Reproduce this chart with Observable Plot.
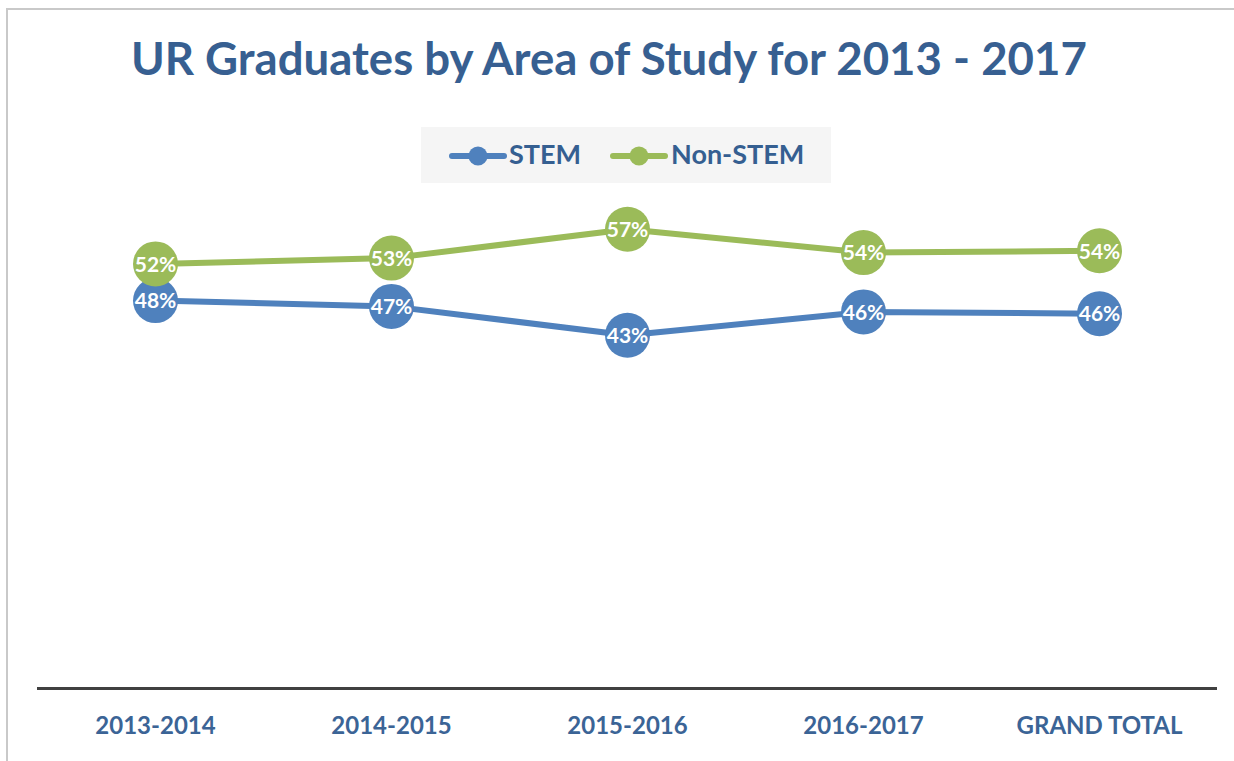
<!DOCTYPE html>
<html>
<head>
<meta charset="utf-8">
<script src="https://cdn.jsdelivr.net/npm/d3@7"></script>
<script src="https://cdn.jsdelivr.net/npm/@observablehq/plot@0.6"></script>
<style>
  html, body { margin: 0; padding: 0; background: #fff; overflow: hidden; }
  #wrap { position: relative; width: 1234px; height: 761px; overflow: hidden; font-family: Lato, "Open Sans", sans-serif; }
  #frame { position: absolute; left: 6px; top: 8px; width: 1300px; height: 800px; border-left: 2px solid #c9c9c9; border-top: 2px solid #c9c9c9; }
  #title { position: absolute; left: 0; top: 36px; width: 1218px; text-align: center; white-space: nowrap; }
  #title span { display: inline-block; font-size: 45px; line-height: 44px; font-weight: 700; color: #375F91; transform-origin: center; }
  #legend { position: absolute; left: 421px; top: 127px; width: 410px; height: 56px; background: #f5f5f5; }
  .lg-text { position: absolute; top: 13px; font-size: 27px; line-height: 27px; font-weight: 700; color: #355F91; white-space: nowrap; }
  .lg-sw { position: absolute; top: 18px; }
  #chart { position: absolute; left: 0; top: 190px; }
</style>
</head>
<body>
<div id="wrap">
  <div id="frame"></div>
  <div id="title"><span id="titleText">UR Graduates by Area of Study for 2013 - 2017</span></div>
  <div id="legend"></div>
  <div id="chart"></div>
</div>
<script>
// ---- Data ----
const categories = ["2013-2014", "2014-2015", "2015-2016", "2016-2017", "GRAND TOTAL"];
const seriesNames = ["STEM", "Non-STEM"];
const stemValues = [0.4774, 0.4703, 0.4348, 0.4635, 0.4613];
const nonStemValues = [0.5226, 0.5297, 0.5652, 0.5365, 0.5387];
const seriesColors = ["#4F81BD", "#9BBB59"];

const stemRows = categories.map((c, i) => ({category: c, series: "STEM", value: stemValues[i]}));
const nonStemRows = categories.map((c, i) => ({category: c, series: "Non-STEM", value: nonStemValues[i]}));
const allRows = stemRows.concat(nonStemRows);
const pct = d3.format(".0%");

// ---- Title width fit (Calibri-like narrow look) ----
const tt = document.getElementById("titleText");
const tw = tt.getBoundingClientRect().width;
tt.style.transform = `scaleX(${956 / tw})`;

// ---- Legend ----
const legend = document.getElementById("legend");
const legendLayout = [
  {name: seriesNames[0], color: seriesColors[0], sw: 28, tx: 88},
  {name: seriesNames[1], color: seriesColors[1], sw: 189, tx: 250}
];
legendLayout.forEach(item => {
  const sw = document.createElementNS("http://www.w3.org/2000/svg", "svg");
  sw.setAttribute("class", "lg-sw");
  sw.setAttribute("width", 58);
  sw.setAttribute("height", 22);
  sw.style.left = item.sw + "px";
  sw.innerHTML = `<line x1="3" y1="11" x2="55" y2="11" stroke="${item.color}" stroke-width="6" stroke-linecap="round"/><circle cx="29" cy="11" r="9.5" fill="${item.color}"/>`;
  legend.appendChild(sw);
  const t = document.createElement("div");
  t.className = "lg-text";
  t.style.left = item.tx + "px";
  t.textContent = item.name;
  legend.appendChild(t);
});

// ---- Chart ----
const chart = Plot.plot({
  width: 1234,
  height: 571,
  marginLeft: 37,
  marginRight: 17,
  marginTop: 10.5,
  marginBottom: 73,
  style: {fontFamily: "Lato, 'Open Sans', sans-serif", background: "transparent", overflow: "visible"},
  x: {type: "point", domain: categories, padding: 0.5},
  y: {domain: [0, 0.6], axis: null},
  color: {domain: seriesNames, range: seriesColors},
  marks: [
    Plot.ruleY([0], {stroke: "#404040", strokeWidth: 3}),
    Plot.axisX({tickSize: 0, tickPadding: 28, fontSize: 24, fontWeight: "bold", fill: "#3B6496", label: null}),
    Plot.line(stemRows, {x: "category", y: "value", stroke: seriesColors[0], strokeWidth: 6}),
    Plot.dot(stemRows, {x: "category", y: "value", r: 22.5, fill: seriesColors[0]}),
    Plot.line(nonStemRows, {x: "category", y: "value", stroke: seriesColors[1], strokeWidth: 6}),
    Plot.dot(nonStemRows, {x: "category", y: "value", r: 22.5, fill: seriesColors[1]}),
    Plot.text(allRows, {x: "category", y: "value", text: d => pct(d.value), fill: "white", fontSize: 21, fontWeight: "bold", dy: 1})
  ]
});
document.getElementById("chart").appendChild(chart);
</script>
</body>
</html>
